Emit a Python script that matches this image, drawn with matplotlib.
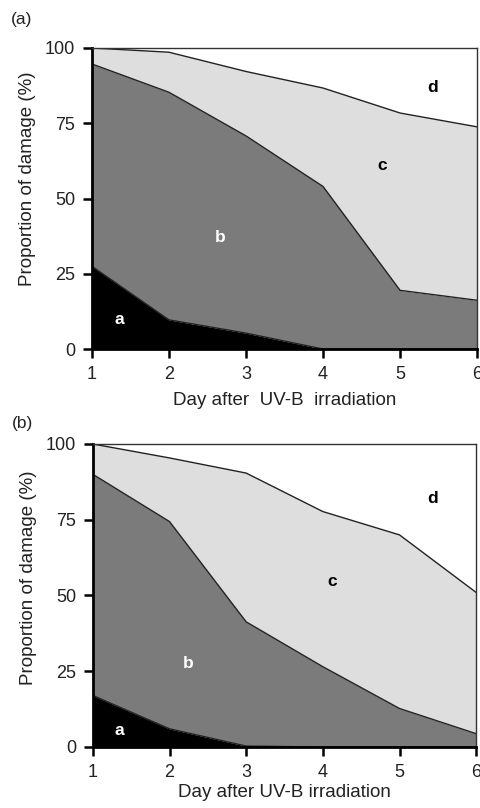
import matplotlib.pyplot as plt

plt.rcParams['font.family'] = ['Liberation Sans', 'DejaVu Sans']

days = [1, 2, 3, 4, 5, 6]

# cumulative upper boundaries (%) for classes a, a+b, a+b+c
a_top_a = [27.5, 9.7, 5.3, 0, 0, 0]
ab_top_a = [94.7, 85.3, 70.8, 54, 19.5, 16.2]
abc_top_a = [100, 98.6, 92.2, 86.7, 78.4, 73.8]

a_top_b = [17, 6, 0.3, 0, 0, 0]
ab_top_b = [90, 74.4, 41.3, 26.5, 12.7, 4.4]
abc_top_b = [100, 95.4, 90.4, 77.7, 70, 51]

labels_a = {'a': (1.36, 9.7), 'b': (2.67, 37), 'c': (4.77, 61), 'd': (5.42, 87)}
labels_b = {'a': (1.35, 5.5), 'b': (2.24, 27.6), 'c': (4.12, 54.6), 'd': (5.43, 82)}

yticks = [0, 25, 50, 75, 100]

fig = plt.figure(figsize=(4.81, 8.08), dpi=100)
ax1 = fig.add_axes([0.191, 0.568, 0.801, 0.3726])
ax2 = fig.add_axes([0.193, 0.0755, 0.797, 0.375])


def panel(ax, a_top, ab_top, abc_top, labels, tag, ylab_y, tag_y):
    zero = [0] * len(days)
    ax.fill_between(days, zero, a_top, color='black', lw=0)
    ax.fill_between(days, a_top, ab_top, color='#7b7b7b', lw=0)
    ax.fill_between(days, ab_top, abc_top, color='#dedede', lw=0)
    for ys in (a_top, ab_top, abc_top):
        ax.plot(days, ys, color='#222222', lw=1.0)
    for k, (x, y) in labels.items():
        col = 'white' if k in 'ab' else 'black'
        ax.text(x, y, k, color=col, fontsize=12.5, fontweight='bold',
                ha='center', va='center')
    ax.set_xlim(1, 6)
    ax.set_ylim(0, 100)
    ax.set_xticks(days)
    ax.set_yticks(yticks)
    ax.tick_params(axis='both', direction='out', length=6.5, width=1.8,
                   labelsize=13, colors='black', labelcolor='#222222', pad=5.5)
    for s in ('left', 'bottom'):
        ax.spines[s].set_linewidth(2)
        ax.spines[s].set_color('black')
    for s in ('top', 'right'):
        ax.spines[s].set_linewidth(1)
        ax.spines[s].set_color('#333333')
    ax.set_ylabel('Proportion of damage (%)', fontsize=13.5, color='#222222')
    ax.yaxis.set_label_coords(-0.146, ylab_y)
    ax.text(-0.21, tag_y, tag, transform=ax.transAxes, fontsize=12.5,
            color='#222222', ha='left', va='center')


panel(ax1, a_top_a, ab_top_a, abc_top_a, labels_a, '(a)', 0.566, 1.093)
ax1.set_xlabel('Day after  UV-B  irradiation', fontsize=13.5, color='#222222')
ax1.xaxis.set_label_coords(0.5, -0.143)
panel(ax2, a_top_b, ab_top_b, abc_top_b, labels_b, '(b)', 0.558, 1.069)
ax2.set_xlabel('Day after UV-B irradiation', fontsize=13.5, color='#222222')
ax2.xaxis.set_label_coords(0.5, -0.122)

fig.savefig('out.png', dpi=100)
